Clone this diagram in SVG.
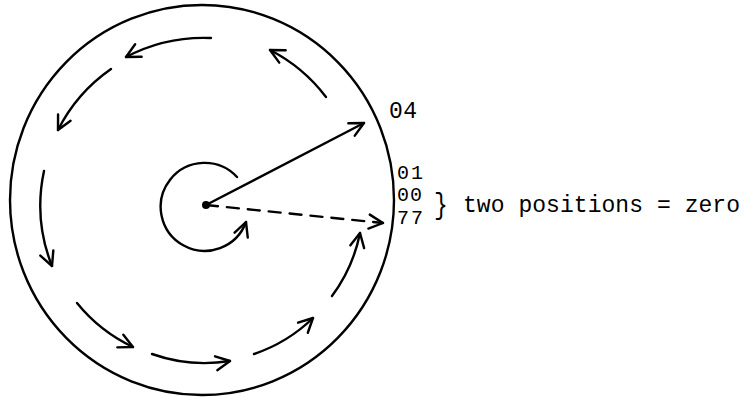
<svg xmlns="http://www.w3.org/2000/svg" width="752" height="397" viewBox="0 0 752 397">
  <style>
    .ln { fill: none; stroke: #000; stroke-width: 2.4; stroke-linecap: round; }
    .txt { font-family: "Liberation Mono", "Courier New", monospace; font-size: 23px; fill: #000; }
    .dg { font-size: 20px; }
  </style>
  <defs>
    <marker id="ah" markerUnits="userSpaceOnUse" markerWidth="20" markerHeight="20" refX="0" refY="0" viewBox="-16 -10 18 20" orient="auto">
      <path d="M -14 -7 L 0 0 L -14 7" fill="none" stroke="#000" stroke-width="2.4" stroke-linecap="round" stroke-linejoin="round"/>
    </marker>
  </defs>
  <rect width="752" height="397" fill="#fff"/>
  <g id="disk">
    <ellipse cx="202" cy="200" rx="192" ry="195" class="ln"/>
    <circle cx="206" cy="205" r="4" fill="#000"/>
  </g>
  <g id="connectors">
    <path class="ln" d="M 211 38 A 167 167 0 0 0 126 57" marker-end="url(#ah)"/>
    <path class="ln" d="M 111 69 A 165 165 0 0 0 58 130" marker-end="url(#ah)"/>
    <path class="ln" d="M 44 171 A 164 164 0 0 0 52 266" marker-end="url(#ah)"/>
    <path class="ln" d="M 77 303 A 160 160 0 0 0 133 347" marker-end="url(#ah)"/>
    <path class="ln" d="M 152 354 A 158 158 0 0 0 230 361" marker-end="url(#ah)"/>
    <path class="ln" d="M 254 354 A 157 157 0 0 0 313 318" marker-end="url(#ah)"/>
    <path class="ln" d="M 332 296 A 157 157 0 0 0 360 233" marker-end="url(#ah)"/>
    <path class="ln" d="M 326 97 A 165 165 0 0 0 270 50" marker-end="url(#ah)"/>
    <path class="ln" d="M 237 177 A 44 44 0 1 0 246 222" marker-end="url(#ah)"/>
    <path class="ln" d="M 206 205 L 364 123" marker-end="url(#ah)"/>
    <path class="ln" d="M 206 205 L 383 223" stroke-dasharray="12 9" marker-end="url(#ah)"/>
  </g>
  <g id="labels">
    <text class="txt" x="389" y="118" textLength="28">04</text>
    <text class="txt dg" x="397" y="179" textLength="26">01</text>
    <text class="txt dg" x="397" y="201" textLength="25">00</text>
    <text class="txt dg" x="397" y="224" textLength="26">77</text>
    <text class="txt" font-size="30" transform="translate(434,214) scale(1,1.25)">}</text>
    <text class="txt" x="463" y="212" textLength="277">two positions = zero</text>
  </g>
</svg>
